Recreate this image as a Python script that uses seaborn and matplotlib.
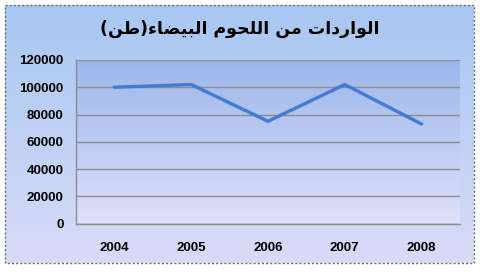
import numpy as np
import pandas as pd
import matplotlib
matplotlib.use("Agg")
import matplotlib.pyplot as plt
import seaborn as sns
from matplotlib.patches import Rectangle

# ---- data ----
years = ["2004", "2005", "2006", "2007", "2008"]
imports = [100000, 102000, 75000, 102000, 73000]
y_ticks = [0, 20000, 40000, 60000, 80000, 100000, 120000]
title = "الواردات من اللحوم البيضاء(طن)"

# ---- minimal Arabic shaping (matplotlib has no bidi/shaping) ----
FORMS = {
    '\u0627': ('\uFE8D', '\uFE8E', None, None),        # alef
    '\u0644': ('\uFEDD', '\uFEDE', '\uFEDF', '\uFEE0'),  # lam
    '\u0648': ('\uFEED', '\uFEEE', None, None),        # waw
    '\u0631': ('\uFEAD', '\uFEAE', None, None),        # reh
    '\u062F': ('\uFEA9', '\uFEAA', None, None),        # dal
    '\u062A': ('\uFE95', '\uFE96', '\uFE97', '\uFE98'),  # teh
    '\u0645': ('\uFEE1', '\uFEE2', '\uFEE3', '\uFEE4'),  # meem
    '\u0646': ('\uFEE5', '\uFEE6', '\uFEE7', '\uFEE8'),  # noon
    '\u062D': ('\uFEA1', '\uFEA2', '\uFEA3', '\uFEA4'),  # hah
    '\u0628': ('\uFE8F', '\uFE90', '\uFE91', '\uFE92'),  # beh
    '\u064A': ('\uFEF1', '\uFEF2', '\uFEF3', '\uFEF4'),  # yeh
    '\u0636': ('\uFEBD', '\uFEBE', '\uFEBF', '\uFEC0'),  # dad
    '\u0621': ('\uFE80', None, None, None),            # hamza
    '\u0637': ('\uFEC1', '\uFEC2', '\uFEC3', '\uFEC4'),  # tah
}


def shape_rtl(text):
    out = []
    n = len(text)
    for i, c in enumerate(text):
        if c not in FORMS:
            out.append(c)
            continue
        iso, fin, ini, med = FORMS[c]
        prev = text[i - 1] if i > 0 else None
        nxt = text[i + 1] if i + 1 < n else None
        jp = prev in FORMS and FORMS[prev][2] is not None and fin is not None
        jn = ini is not None and nxt in FORMS and FORMS[nxt][1] is not None
        if jp and jn:
            out.append(med)
        elif jp:
            out.append(fin)
        elif jn:
            out.append(ini)
        else:
            out.append(iso)
    vis = "".join(reversed(out))
    swap = {"(": ")", ")": "("}
    return "".join(swap.get(ch, ch) for ch in vis)


sns.set_style("white")
plt.rcParams['font.family'] = ['Liberation Sans', 'DejaVu Sans']

W, H = 480, 272
fig = plt.figure(figsize=(W / 100, H / 100), dpi=100)
fig.patch.set_facecolor("white")

# background with gradient and dotted frame
bg = fig.add_axes([0, 0, 1, 1])
bg.set_xlim(0, W)
bg.set_ylim(H, 0)
bg.axis("off")
top_c = np.array([0.655, 0.780, 0.945])
bot_c = np.array([0.850, 0.860, 0.970])
t = np.linspace(0, 1, 256)[:, None]
grad = top_c[None, None, :] * (1 - t[:, :, None]) + bot_c[None, None, :] * t[:, :, None]
bg.imshow(grad, extent=[5, 474, 263, 5], aspect="auto", interpolation="bilinear", zorder=0)
bg.add_patch(Rectangle((5, 5), 469, 258, fill=False, edgecolor="#707070",
                       linestyle=(0, (1.5, 1.5)), linewidth=1.0, zorder=2))
bg.text(240, 29, shape_rtl(title), ha="center", va="center", fontsize=12.5,
        fontweight="bold", family=["DejaVu Sans"], color="black", zorder=3)

# plot area
left, right, top, bottom = 76, 460, 60, 223.5
ax = fig.add_axes([left / W, (H - bottom) / H, (right - left) / W, (bottom - top) / H])
ax.set_facecolor("none")
ptop = np.array([0.610, 0.715, 0.920])
pbot = np.array([0.875, 0.878, 0.980])
pgrad = ptop[None, None, :] * (1 - t[:, :, None]) + pbot[None, None, :] * t[:, :, None]
ax.imshow(pgrad, extent=[0, 1, 0, 1], transform=ax.transAxes, aspect="auto",
          interpolation="bilinear", zorder=0)

df = pd.DataFrame({"year": years, "value": imports})
sns.lineplot(data=df, x="year", y="value", ax=ax, color="#417bd2", linewidth=2.4,
             sort=False, zorder=3)

ax.set_xlim(-0.5, len(years) - 0.5)
ax.set_ylim(0, 120000)
ax.set_yticks(y_ticks)
ax.set_yticklabels([str(v) for v in y_ticks])
ax.set_xticks(range(len(years)))
ax.set_xticklabels(years)
ax.set_xticks(np.arange(-0.5, len(years), 1.0), minor=True)
ax.tick_params(axis="x", which="major", length=0, pad=13)
ax.tick_params(axis="x", which="minor", length=3, color="#8c8c8c", width=1, direction="out")
ax.tick_params(axis="y", length=3, color="#8c8c8c", width=1, direction="out", pad=6)
for lab in ax.get_xticklabels() + ax.get_yticklabels():
    lab.set_fontweight("bold")
    lab.set_fontsize(9.5)
    lab.set_color("black")
ax.set_xlabel("")
ax.set_ylabel("")
ax.yaxis.grid(True, color="#8c8c8c", linewidth=1.0, zorder=1)
ax.xaxis.grid(False)
ax.set_axisbelow(True)
for s in ["top", "right"]:
    ax.spines[s].set_visible(False)
ax.spines["left"].set_color("#8c8c8c")
ax.spines["bottom"].set_color("#8c8c8c")
ax.spines["left"].set_linewidth(1)
ax.spines["bottom"].set_linewidth(1)

fig.savefig("out.png", dpi=100)
